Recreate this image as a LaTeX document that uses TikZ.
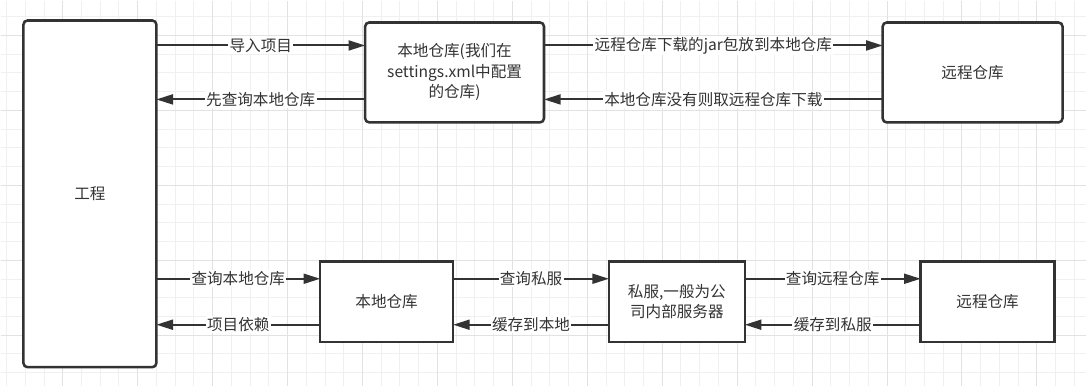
\documentclass[tikz,border=0pt]{standalone}
\usepackage{fontspec}
\setmainfont{Noto Sans CJK SC}
\usetikzlibrary{arrows.meta}
\definecolor{darkline}{RGB}{51,51,51}
\definecolor{gridminor}{RGB}{240,240,240}
\definecolor{gridmajor}{RGB}{226,226,226}

\begin{document}
\begin{tikzpicture}[x=0.75pt, y=-0.75pt,
    box/.style={draw=darkline, line width=1.9pt, fill=white, align=center, inner sep=2pt, outer sep=0pt, text=darkline, font=\fontsize{11.7}{15.4}\selectfont},
    roundbox/.style={box, rounded corners=3pt},
    arr/.style={draw=darkline, line width=1.5pt, -{Triangle[length=12.5pt, width=7.5pt]}},
    lbl/.style={fill=white, inner sep=1pt, text=darkline, font=\fontsize{11.7}{14}\selectfont}]
    % Background grid
    \fill[white] (0,0) rectangle (1086,386);
    \foreach \i in {0,...,57} \draw[gridminor, line width=0.75pt] ({6.05+18.75*\i},0) -- ++(0,386);
    \foreach \i in {1,...,20} \draw[gridminor, line width=0.75pt] (0,{-2.5+18.75*\i}) -- ++(1086,0);
    \foreach \i in {1,...,14} \draw[gridmajor, line width=0.75pt] ({-12.7+75*\i},0) -- ++(0,386);
    \foreach \i in {0,...,4} \draw[gridmajor, line width=0.75pt] (0,{35+75*\i}) -- ++(1086,0);
    \useasboundingbox (0,0) rectangle (1086,386);

    % Project
    \node[roundbox, minimum width=99.75pt, minimum height=260.25pt] (proj) at (89.5,193.5) {工程};

    % Upper row: local and remote repository
    \node[roundbox, minimum width=134.25pt, minimum height=75pt] (local) at (454.5,72) {本地仓库(我们在\\settings.xml中配置\\的仓库)};
    \node[roundbox, minimum width=135pt, minimum height=75pt] (remote) at (973,72) {远程仓库};

    \coordinate (l1) at ([yshift=20.25pt]local.west);
    \coordinate (l2) at ([yshift=-20.25pt]local.west);
    \coordinate (r1) at ([yshift=20.25pt]remote.west);
    \coordinate (r2) at ([yshift=-20.25pt]remote.west);

    \draw[arr] (proj.east |- l1) -- (l1) node[midway, lbl] {导入项目};
    \draw[arr] (l2) -- (proj.east |- l2) node[midway, lbl] {先查询本地仓库};
    \draw[arr] (local.east |- r1) -- (r1) node[midway, lbl] {远程仓库下载的jar包放到本地仓库};
    \draw[arr] (r2) -- (local.east |- r2) node[midway, lbl] {本地仓库没有则取远程仓库下载};

    % Lower row: local, private server, remote
    \node[box, minimum width=99.75pt, minimum height=60.75pt] (blocal) at (386.5,301.5) {本地仓库};
    \node[box, minimum width=102pt, minimum height=60.75pt] (priv) at (677,301.5) {私服,一般为公\\司内部服务器};
    \node[box, minimum width=100.5pt, minimum height=60.75pt] (bremote) at (988,301.5) {远程仓库};

    \coordinate (b1) at ([yshift=17.25pt]blocal.west);
    \coordinate (b2) at ([yshift=-17.25pt]blocal.west);

    \draw[arr] (proj.east |- b1) -- (b1) node[midway, lbl] {查询本地仓库};
    \draw[arr] (b2) -- (proj.east |- b2) node[midway, lbl] {项目依赖};
    \draw[arr] (blocal.east |- b1) -- (priv.west |- b1) node[midway, lbl] {查询私服};
    \draw[arr] (priv.west |- b2) -- (blocal.east |- b2) node[midway, lbl] {缓存到本地};
    \draw[arr] (priv.east |- b1) -- (bremote.west |- b1) node[midway, lbl] {查询远程仓库};
    \draw[arr] (bremote.west |- b2) -- (priv.east |- b2) node[midway, lbl] {缓存到私服};
\end{tikzpicture}
\end{document}
